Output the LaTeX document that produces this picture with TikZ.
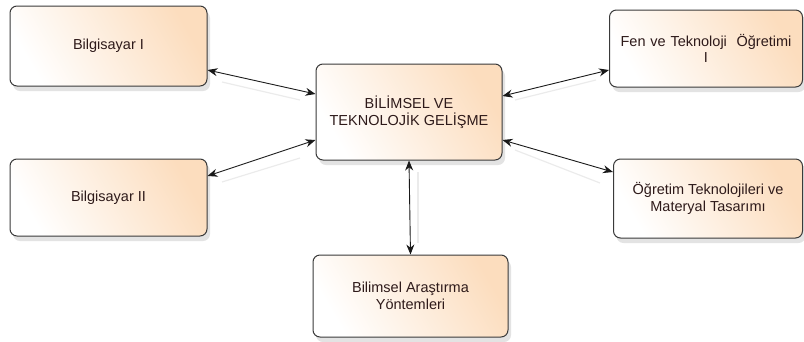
\documentclass[tikz,border=0pt]{standalone}
\usepackage{fontspec}
\setmainfont{Liberation Sans}
\usetikzlibrary{shadows,arrows.meta}
\definecolor{peach}{HTML}{FCDDBE}
\definecolor{txt}{HTML}{2E1A1A}
\definecolor{bord}{HTML}{3A3A3A}
\begin{document}
\begin{tikzpicture}[x=1pt,y=-1pt,
  box/.style={draw=bord, line width=1pt, rounded corners=7pt,
    left color=white, right color=peach, shading angle=120,
    drop shadow={shadow xshift=3pt, shadow yshift=-5pt, opacity=0.18, fill=black!60},
    text=txt, font=\fontsize{14.5}{16.5}\selectfont, align=center,
    inner sep=2pt},
  link/.style={{Stealth[length=10pt,width=8pt]}-{Stealth[length=10pt,width=8pt]}, line width=0.9pt, black!90},
  ghost/.style={line width=1.2pt, black!8}
  ]
\useasboundingbox (0,0) rectangle (804,341);
\node[box, minimum width=197pt, minimum height=80pt] (b1) at (108.5,46) {Bilgisayar I};
\node[box, minimum width=197pt, minimum height=77pt] (b2) at (108.5,197.5) {Bilgisayar II};
\node[box, minimum width=186pt, minimum height=96pt] (c) at (409,112) {BİLİMSEL VE\\TEKNOLOJİK GELİŞME};
\node[box, minimum width=193pt, minimum height=77pt, text width=187pt] (f) at (706,48.5) {Fen ve Teknoloji\ \ Öğretimi\\I};
\node[box, minimum width=189pt, minimum height=79pt] (o) at (708,198.5) {Öğretim Teknolojileri ve\\Materyal Tasarımı};
\node[box, minimum width=195pt, minimum height=82pt] (a) at (410.5,296) {Bilimsel Araştırma\\Yöntemleri};
% faint shadow lines
\coordinate (g1a) at (222,82); \coordinate (g1b) at (300,100);
\draw[ghost] (g1a) -- (g1b);
\coordinate (g2a) at (222,182); \coordinate (g2b) at (300,158);
\draw[ghost] (g2a) -- (g2b);
\coordinate (g3a) at (596,80); \coordinate (g3b) at (515,100);
\draw[ghost] (g3a) -- (g3b);
\coordinate (g4a) at (600,183); \coordinate (g4b) at (515,150);
\draw[ghost] (g4a) -- (g4b);
\coordinate (g5a) at (418,172); \coordinate (g5b) at (418,243);
\draw[ghost] (g5a) -- (g5b);
% connectors
\draw[link] (b1.east |- 0,70) -- (c.west |- 0,94);
\draw[link] (b2.east |- 0,176) -- (c.west |- 0,140);
\draw[link] (f.west |- 0,70) -- (c.east |- 0,96);
\draw[link] (o.west |- 0,172) -- (c.east |- 0,140);
\draw[link] (c.south) -- (a.north);
\end{tikzpicture}
\end{document}
